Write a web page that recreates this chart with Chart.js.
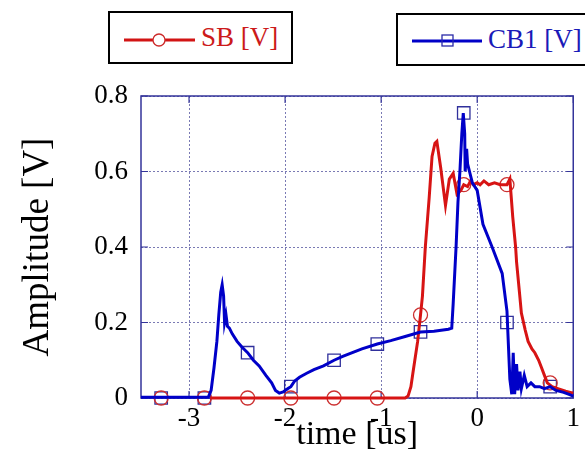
<!DOCTYPE html>
<html>
<head>
<meta charset="utf-8">
<script src="https://cdn.jsdelivr.net/npm/chart.js@4.4.1/dist/chart.umd.min.js"></script>
<style>
  body { margin: 0; background: #fff; overflow: hidden; }
  #wrap { position: relative; width: 585px; height: 452px; }
  canvas { position: absolute; left: 0; top: 0; }
  .lg { position: absolute; border: 2px solid #000; background: #fff; box-sizing: border-box;
        font-family: "Liberation Serif", "Times New Roman", serif; font-size: 27px; white-space: nowrap; }
  .lg svg { position: absolute; left: 0; top: 0; }
  .lg span { position: absolute; top: 9px; }
</style>
</head>
<body>
<div id="wrap">
  <canvas id="chart" width="585" height="452"></canvas>
  <div class="lg" style="left:108px; top:11px; width:185px; height:53px;">
    <svg width="185" height="53">
      <line x1="14" y1="27" x2="85" y2="27" stroke="rgb(210,20,20)" stroke-width="3"/>
      <circle cx="49" cy="27" r="6" fill="#fff" stroke="#cc2a2a" stroke-width="1.3"/>
    </svg>
    <span style="left:91px; color:#cc1a1a;">SB [V]</span>
  </div>
  <div class="lg" style="left:396px; top:13px; width:210px; height:53px;">
    <svg width="210" height="53">
      <line x1="14" y1="26" x2="84" y2="26" stroke="rgb(0,0,200)" stroke-width="3"/>
      <rect x="44" y="20" width="11" height="11" fill="none" stroke="#2a2aa8" stroke-width="1.3"/>
    </svg>
    <span style="left:90px; color:#1a1ab8;">CB1 [V]</span>
  </div>
</div>
<script>
// waveform samples (time in us, amplitude in V)
const cb1Time = [-3.5, -3.0, -2.8, -2.77, -2.74, -2.71, -2.69, -2.67, -2.655, -2.64, -2.63, -2.615, -2.6, -2.58,
  -2.55, -2.5, -2.45, -2.39, -2.33, -2.27, -2.2, -2.14, -2.1, -2.06, -2.02, -1.97, -1.94, -1.9, -1.85, -1.78,
  -1.7, -1.6, -1.49, -1.4, -1.3, -1.2, -1.04, -0.9, -0.75, -0.59, -0.45, -0.3, -0.265, -0.25, -0.22, -0.2,
  -0.18, -0.16, -0.145, -0.13, -0.125, -0.11, -0.1, -0.08, -0.05, 0.0, 0.06, 0.155, 0.26, 0.31, 0.34, 0.36,
  0.375, 0.39, 0.41, 0.425, 0.445, 0.46, 0.49, 0.52, 0.56, 0.6, 0.65, 0.7, 0.76, 0.82, 0.9, 0.95, 1.0];
const cb1Volt = [0.002, 0.002, 0.002, 0.02, 0.08, 0.15, 0.22, 0.28, 0.30, 0.27, 0.20, 0.22, 0.19, 0.185,
  0.17, 0.15, 0.135, 0.12, 0.10, 0.085, 0.06, 0.04, 0.02, 0.013, 0.016, 0.025, 0.03, 0.045, 0.055, 0.065,
  0.075, 0.085, 0.10, 0.11, 0.12, 0.13, 0.143, 0.152, 0.163, 0.175, 0.177, 0.182, 0.185, 0.25, 0.40, 0.52,
  0.60, 0.70, 0.755, 0.70, 0.60, 0.66, 0.62, 0.60, 0.57, 0.55, 0.46, 0.40, 0.33, 0.23, 0.05, 0.01,
  0.12, 0.01, 0.09, 0.02, 0.07, 0.025, 0.06, 0.03, 0.04, 0.03, 0.03, 0.025, 0.03, 0.02, 0.015, 0.01, 0.005];

const sbTime = [-2.78, -0.75, -0.72, -0.69, -0.67, -0.62, -0.59, -0.57, -0.54, -0.5, -0.47, -0.44, -0.42,
  -0.38, -0.33, -0.29, -0.25, -0.21, -0.17, -0.14, -0.1, -0.07, -0.04, 0.0, 0.03, 0.07, 0.12, 0.18, 0.24,
  0.31, 0.34, 0.355, 0.37, 0.4, 0.41, 0.44, 0.46, 0.5, 0.53, 0.57, 0.6, 0.64, 0.67, 0.7, 0.73, 0.78, 0.84,
  0.92, 1.0];
const sbVolt = [0, 0, 0.005, 0.03, 0.065, 0.15, 0.22, 0.27, 0.40, 0.53, 0.64, 0.675, 0.68,
  0.61, 0.51, 0.58, 0.595, 0.54, 0.55, 0.565, 0.56, 0.575, 0.565, 0.57, 0.565, 0.575, 0.565, 0.57, 0.565,
  0.565, 0.58, 0.53, 0.48, 0.40, 0.36, 0.28, 0.225, 0.18, 0.15, 0.13, 0.12, 0.10, 0.08, 0.06, 0.04, 0.03, 0.025,
  0.018, 0.013];

// marker positions (every ~0.45 us)
const markTime = [-3.29, -2.84, -2.39, -1.94, -1.49, -1.04, -0.59, -0.14, 0.31, 0.76];
const sbMarks = [0, 0, 0, 0, 0, 0, 0.22, 0.565, 0.565, 0.04];
const cb1Marks = [0, 0, 0.12, 0.03, 0.10, 0.143, 0.175, 0.755, 0.20, 0.03];

const xTicks = [-3, -2, -1, 0, 1];
const yTicks = [0, 0.2, 0.4, 0.6, 0.8];

const frameColor = '#34349a';
const serif = '"Liberation Serif", "Times New Roman", serif';

const toXY = (xs, ys) => xs.map((x, i) => ({ x: x, y: ys[i] }));

// box round the plot plus inward tick marks
const framePlugin = {
  id: 'frame',
  beforeDatasetsDraw(chart) {
    const { ctx, chartArea: a, scales } = chart;
    ctx.save();
    ctx.strokeStyle = frameColor;
    ctx.lineWidth = 1.5;
    ctx.strokeRect(a.left, a.top, a.right - a.left, a.bottom - a.top);
    ctx.lineWidth = 1.2;
    ctx.beginPath();
    xTicks.forEach(v => {
      const px = scales.x.getPixelForValue(v);
      ctx.moveTo(px, a.top); ctx.lineTo(px, a.top + 7);
      ctx.moveTo(px, a.bottom); ctx.lineTo(px, a.bottom - 7);
    });
    yTicks.forEach(v => {
      const py = scales.y.getPixelForValue(v);
      ctx.moveTo(a.left, py); ctx.lineTo(a.left + 7, py);
      ctx.moveTo(a.right, py); ctx.lineTo(a.right - 7, py);
    });
    ctx.stroke();
    ctx.restore();
  }
};

new Chart(document.getElementById('chart'), {
  type: 'scatter',
  data: {
    datasets: [
      { label: 'CB1 [V]', data: toXY(cb1Time, cb1Volt), showLine: true, borderColor: 'rgb(0,0,200)',
        borderWidth: 3, pointRadius: 0, tension: 0, clip: 4 },
      { label: 'SB [V]', data: toXY(sbTime, sbVolt), showLine: true, borderColor: 'rgb(215,20,20)',
        borderWidth: 3, pointRadius: 0, tension: 0, clip: 4 },
      { label: 'SB marks', data: toXY(markTime, sbMarks), showLine: false, pointStyle: 'circle',
        pointRadius: 7, borderColor: '#cc3030', borderWidth: 1.3, backgroundColor: 'rgba(0,0,0,0)', clip: false },
      { label: 'CB1 marks', data: toXY(markTime, cb1Marks), showLine: false, pointStyle: 'rect',
        pointRadius: 8.8, borderColor: '#30309c', borderWidth: 1.3, backgroundColor: 'rgba(0,0,0,0)', clip: false }
    ]
  },
  options: {
    responsive: false,
    animation: false,
    devicePixelRatio: 1,
    layout: { padding: { top: 96, right: 7, left: 0, bottom: 0 } },
    plugins: { legend: { display: false }, tooltip: { enabled: false } },
    scales: {
      x: {
        type: 'linear', min: -3.5, max: 1,
        afterBuildTicks: s => { s.ticks = xTicks.map(v => ({ value: v })); },
        afterFit: s => { s.height = 54; },
        grid: { color: '#7a7ab4', lineWidth: 1, drawTicks: false },
        border: { display: false, dash: [2, 2] },
        ticks: { color: '#000', padding: 5, font: { family: serif, size: 27 }, maxRotation: 0 },
        title: { display: true, text: 'time [us]', color: '#000', padding: 0,
                 font: { family: serif, size: 34, lineHeight: 1 } }
      },
      y: {
        type: 'linear', min: 0, max: 0.8,
        afterBuildTicks: s => { s.ticks = yTicks.map(v => ({ value: v })); },
        afterFit: s => { s.width = 141; },
        grid: { color: '#7a7ab4', lineWidth: 1, drawTicks: false },
        border: { display: false, dash: [2, 2] },
        ticks: { color: '#000', padding: 13, font: { family: serif, size: 27 },
                 callback: v => (v === 0 ? '0' : v.toFixed(1)) },
        title: { display: true, text: 'Amplitude [V]', color: '#000', padding: { top: 20, bottom: 0 },
                 font: { family: serif, size: 37, lineHeight: 1 } }
      }
    }
  },
  plugins: [framePlugin]
});
</script>
</body>
</html>
